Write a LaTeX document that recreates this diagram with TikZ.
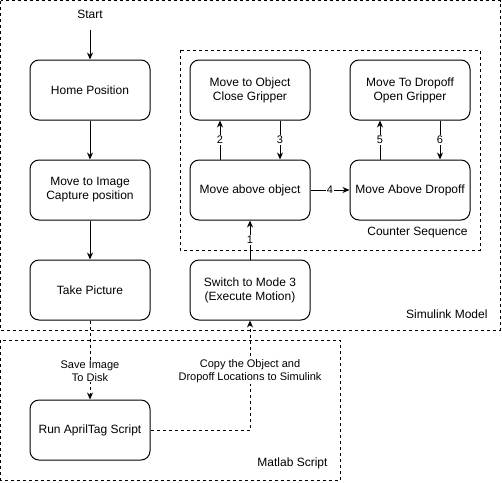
\documentclass[tikz,border=0pt]{standalone}
\usepackage{fontspec}
\setmainfont{Liberation Sans}
\usetikzlibrary{arrows.meta,positioning}

\begin{document}
\begin{tikzpicture}[x=1pt,y=-1pt,>={Stealth[length=7pt,width=6pt]},
  font=\fontsize{12}{14}\selectfont,
  stepbox/.style={draw,line width=1pt,rounded corners=9pt,minimum width=120pt,minimum height=60pt,align=center,inner sep=2pt},
  frame/.style={draw,line width=1pt,dash pattern=on 3pt off 3pt},
  flow/.style={->,line width=1pt},
  dflow/.style={->,line width=1pt,dash pattern=on 3pt off 3pt},
  tag/.style={fill=white,inner sep=1pt,font=\fontsize{11}{13}\selectfont,align=center}]
  \useasboundingbox (0,0) rectangle (502,482);
  % group frames
  \draw[frame] (0.5,0.5) rectangle (500,330);
  \draw[frame] (180,50) rectangle (480,250);
  \draw[frame] (0.5,340) rectangle (340,480);
  \node[anchor=east] (simlbl) at (491,314) {Simulink Model};
  \node[anchor=east] (cntlbl) at (471,233) {Counter Sequence};
  \node[anchor=east] (mlblbl) at (331,463) {Matlab Script};
  % left column
  \coordinate (start) at (90,30);
  \node (starttxt) at (90,14) {Start};
  \node[stepbox] (home) at (90,90) {Home Position};
  \node[stepbox] (capture) at (90,190) {Move to Image\\Capture position};
  \node[stepbox] (picture) at (90,290) {Take Picture};
  \node[stepbox] (april) at (90,430) {Run AprilTag Script};
  % motion
  \node[stepbox] (mode) at (250,290) {Switch to Mode 3\\(Execute Motion)};
  \node[stepbox] (aboveobj) at (250,190) {Move above object};
  \node[stepbox] (grab) at (250,90) {Move to Object\\Close Gripper};
  \node[stepbox] (abovedrop) at (410,190) {Move Above Dropoff};
  \node[stepbox] (drop) at (410,90) {Move To Dropoff\\Open Gripper};

  \draw[flow] (start) -- (home);
  \draw[flow] (home) -- (capture);
  \draw[flow] (capture) -- (picture);
  \draw[dflow] (picture) -- node[tag,pos=0.64] {Save Image\\To Disk} (april);
  \draw[dflow] (april.east) -| node[tag,pos=0.77] {Copy the Object and\\Dropoff Locations to Simulink} (mode.south);
  \draw[flow] (mode) -- node[tag] {1} (aboveobj);
  \draw[flow] ([xshift=-30pt]aboveobj.north) -- node[tag] {2} ([xshift=-30pt]grab.south);
  \draw[flow] ([xshift=30pt]grab.south) -- node[tag] {3} ([xshift=30pt]aboveobj.north);
  \draw[flow] (aboveobj) -- node[tag] {4} (abovedrop);
  \draw[flow] ([xshift=-30pt]abovedrop.north) -- node[tag] {5} ([xshift=-30pt]drop.south);
  \draw[flow] ([xshift=30pt]drop.south) -- node[tag] {6} ([xshift=30pt]abovedrop.north);
\end{tikzpicture}
\end{document}
